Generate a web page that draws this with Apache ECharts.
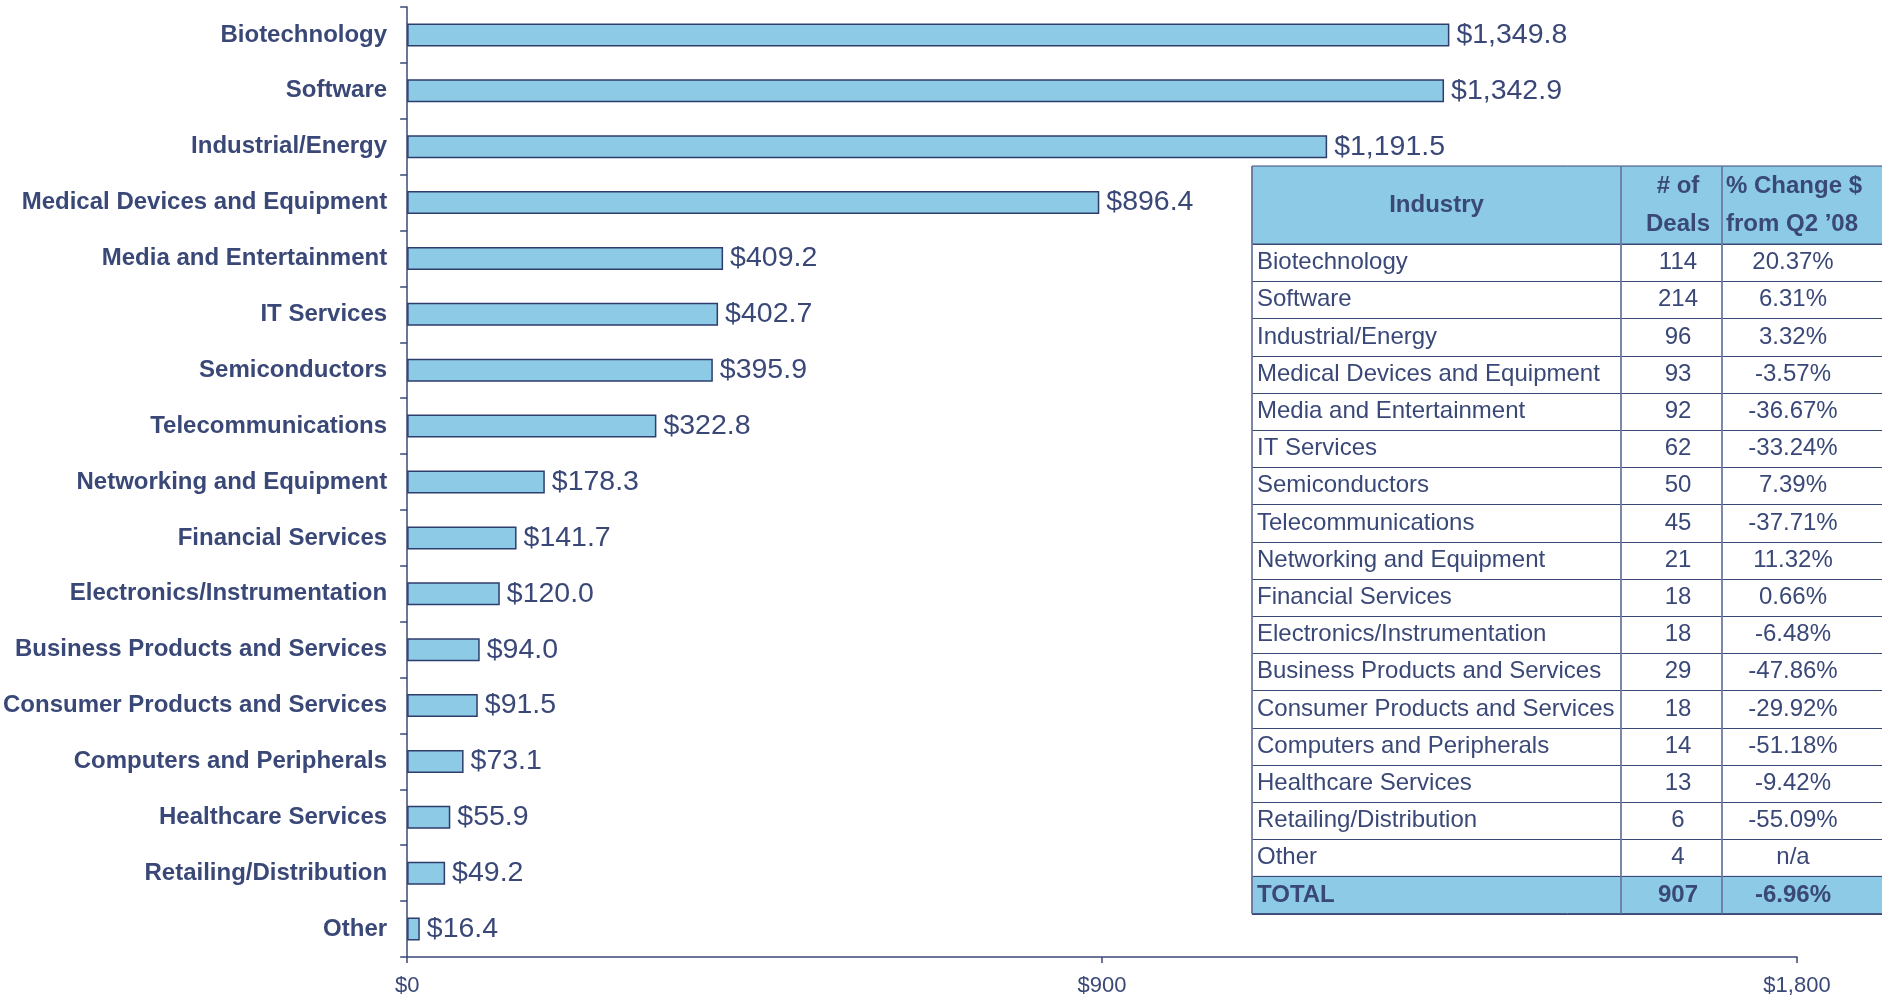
<!DOCTYPE html>
<html>
<head>
<meta charset="utf-8">
<title>Investment by Industry</title>
<script src="https://cdn.jsdelivr.net/npm/echarts@6/dist/echarts.min.js"></script>
<style>
  html, body { margin: 0; padding: 0; background: #fff; }
  #chart { width: 1882px; height: 998px; }
</style>
</head>
<body>
<div id="chart"></div>
<script>
// industries, top to bottom
const industries = [
  'Biotechnology', 'Software', 'Industrial/Energy', 'Medical Devices and Equipment',
  'Media and Entertainment', 'IT Services', 'Semiconductors', 'Telecommunications',
  'Networking and Equipment', 'Financial Services', 'Electronics/Instrumentation',
  'Business Products and Services', 'Consumer Products and Services',
  'Computers and Peripherals', 'Healthcare Services', 'Retailing/Distribution', 'Other'
]
// $ millions invested
const amounts = [1349.8, 1342.9, 1191.5, 896.4, 409.2, 402.7, 395.9, 322.8, 178.3,
  141.7, 120.0, 94.0, 91.5, 73.1, 55.9, 49.2, 16.4]
// table columns
const deals = [114, 214, 96, 93, 92, 62, 50, 45, 21, 18, 18, 29, 18, 14, 13, 6, 4]
const changes = ['20.37%', '6.31%', '3.32%', '-3.57%', '-36.67%', '-33.24%', '7.39%',
  '-37.71%', '11.32%', '0.66%', '-6.48%', '-47.86%', '-29.92%', '-51.18%', '-9.42%',
  '-55.09%', 'n/a']
const totalRow = ['TOTAL', 907, '-6.96%']
const headerRow = [['Industry'], ['# of', 'Deals'], ['% Change $', 'from Q2 \u201908']]
const xTicks = [0, 900, 1800]

const NAVY = '#3a4877'
const BLUE = '#8ccae6'
const FONT = '"Liberation Sans", Arial, sans-serif'

function money (v, dec) {
  return '$' + v.toLocaleString('en-US', { minimumFractionDigits: dec, maximumFractionDigits: dec })
}

// table layout (pixels)
const tbl = {
  left: 1252, top: 166, headH: 78, rowH: 37.2,
  col1: 1621, col2: 1722, right: 1900,
  dealsX: 1678, changeX: 1793
}

function txt (text, x, y, align, bold) {
  return {
    type: 'text', z: 10,
    style: {
      text: text, x: x, y: y,
      fill: NAVY, fontSize: 24, fontFamily: FONT, fontWeight: bold ? 'bold' : 'normal',
      align: align, textAlign: align, verticalAlign: 'middle', textVerticalAlign: 'middle'
    }
  }
}

function buildTable () {
  const els = []
  const rows = industries.map((name, i) => [name, deals[i], changes[i]])
  const bodyTop = tbl.top + tbl.headH
  const bottom = bodyTop + tbl.rowH * (rows.length + 1)
  // header and total backgrounds
  els.push({ type: 'rect', z: 5, shape: { x: tbl.left, y: tbl.top, width: tbl.right - tbl.left, height: tbl.headH },
    style: { fill: BLUE, stroke: NAVY, lineWidth: 1 } })
  els.push({ type: 'rect', z: 5, shape: { x: tbl.left, y: bottom - tbl.rowH, width: tbl.right - tbl.left, height: tbl.rowH },
    style: { fill: BLUE, stroke: NAVY, lineWidth: 1 } })
  // horizontal rules
  for (let i = 0; i <= rows.length + 1; i++) {
    const y = Math.round(bodyTop + tbl.rowH * i) + 0.5
    els.push({ type: 'line', z: 6, shape: { x1: tbl.left, y1: y, x2: tbl.right, y2: y },
      style: { stroke: NAVY, lineWidth: 1.2 } })
  }
  // vertical rules
  ;[tbl.left, tbl.col1, tbl.col2].forEach(x => {
    els.push({ type: 'line', z: 6, shape: { x1: x, y1: tbl.top, x2: x, y2: bottom },
      style: { stroke: '#6f7aa0', lineWidth: 1.8 } })
  })
  // header
  els.push(txt(headerRow[0][0], (tbl.left + tbl.col1) / 2, tbl.top + 39, 'center', true))
  els.push(txt(headerRow[1][0], tbl.dealsX, tbl.top + 20, 'center', true))
  els.push(txt(headerRow[1][1], tbl.dealsX, tbl.top + 58, 'center', true))
  els.push(txt(headerRow[2][0], tbl.col2 + 4, tbl.top + 20, 'left', true))
  els.push(txt(headerRow[2][1], tbl.col2 + 4, tbl.top + 58, 'left', true))
  // body + total
  rows.concat([totalRow]).forEach((r, i) => {
    const y = bodyTop + tbl.rowH * (i + 0.5)
    const bold = i === rows.length
    els.push(txt(r[0], tbl.left + 5, y, 'left', bold))
    els.push(txt(String(r[1]), tbl.dealsX, y, 'center', bold))
    els.push(txt(r[2], tbl.changeX, y, 'center', bold))
  })
  return els
}

const chart = echarts.init(document.getElementById('chart'))
chart.setOption({
  animation: false,
  backgroundColor: '#fff',
  grid: { left: 406, right: 85, top: 7, bottom: 41, containLabel: false },
  xAxis: {
    type: 'value', min: xTicks[0], max: xTicks[xTicks.length - 1], interval: xTicks[1] - xTicks[0],
    splitLine: { show: false },
    axisLine: { show: true, lineStyle: { color: NAVY, width: 1.5 } },
    axisTick: { show: true, length: 6, lineStyle: { color: NAVY, width: 1.5 } },
    axisLabel: { color: NAVY, fontSize: 22, fontFamily: FONT, margin: 18, formatter: v => money(v, 0) }
  },
  yAxis: {
    type: 'category', data: industries, inverse: true,
    axisLine: { show: true, lineStyle: { color: NAVY, width: 1.5 } },
    axisTick: { show: true, length: 7, lineStyle: { color: NAVY, width: 1.5 } },
    axisLabel: { color: NAVY, fontSize: 24, fontWeight: 'bold', fontFamily: FONT, margin: 20, padding: [4, 0, 0, 0] }
  },
  series: [{
    type: 'bar',
    data: amounts,
    barWidth: 23,
    itemStyle: { color: BLUE, borderColor: '#2f3d6c', borderWidth: 1.5 },
    label: {
      show: true, position: 'right', distance: 7,
      color: NAVY, fontSize: 28.5, fontFamily: FONT,
      formatter: p => money(p.value, 1)
    }
  }],
  graphic: { elements: buildTable() }
})
</script>
</body>
</html>
